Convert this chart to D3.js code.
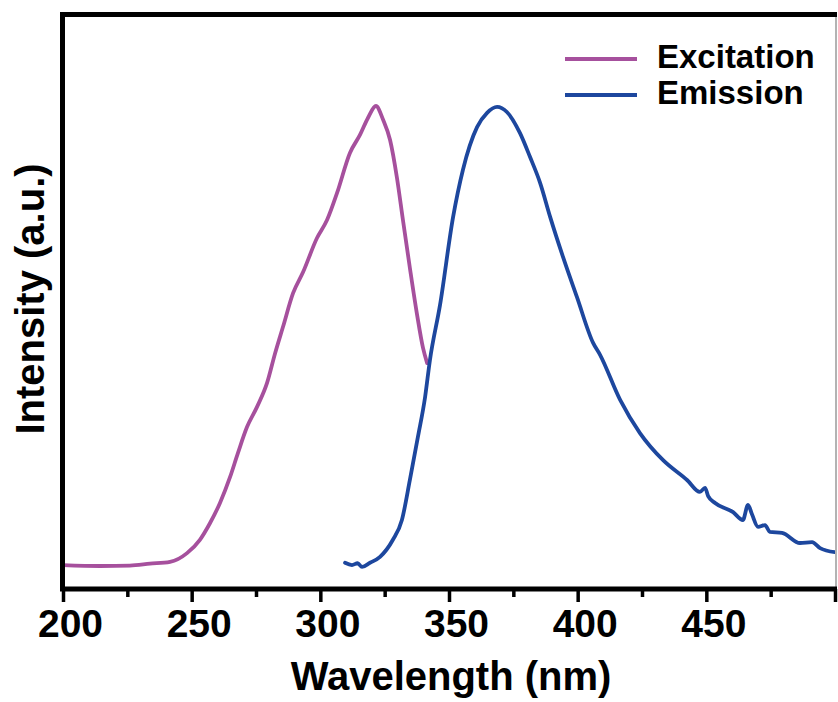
<!DOCTYPE html>
<html>
<head>
<meta charset="utf-8">
<script src="https://cdn.jsdelivr.net/npm/d3@7"></script>
<style>
  html, body { margin: 0; padding: 0; background: #fff; }
  svg { display: block; font-family: "Liberation Sans", Arial, sans-serif; font-weight: bold; }
</style>
</head>
<body>
<svg id="chart" width="838" height="702"></svg>
<script>
// Photoluminescence spectra: wavelength (nm) vs normalized intensity (a.u.)
const excitationWavelength = [200, 214.4, 226.0, 233.8, 241.6, 248.2, 253.2, 257.1, 261.0, 264.9, 268.0, 271.5, 275.4, 279.3, 282.4, 285.5, 289.4, 293.3, 298.7, 302.6, 306.5, 311.5, 315.4, 318.5, 321.6, 324.4, 327.1, 329.8, 332.1, 334.8, 337.6, 339.9, 341.5];
const excitationIntensity  = [0.002, 0.0, 0.001, 0.005, 0.009, 0.028, 0.057, 0.093, 0.137, 0.193, 0.246, 0.302, 0.346, 0.398, 0.462, 0.52, 0.593, 0.639, 0.713, 0.752, 0.811, 0.898, 0.937, 0.974, 1.0, 0.970, 0.926, 0.843, 0.752, 0.648, 0.546, 0.474, 0.441];

const emissionWavelength = [309.6, 312.3, 314.5, 316.2, 319.3, 323.2, 328.2, 331.7, 334.8, 337.9, 340.7, 342.6, 346.5, 351.6, 355.4, 360.9, 364.8, 368.7, 372.5, 377.6, 381.5, 385.4, 389.3, 394.3, 399.7, 406.0, 408.7, 416.5, 424.2, 433.2, 442.5, 447.5, 449.5, 450.7, 453.4, 460.4, 464.2, 466.2, 467.7, 470.1, 472.8, 474.7, 479.4, 486.4, 491.1, 494.2, 500];
const emissionIntensity  = [0.007, 0.002, 0.006, -0.002, 0.007, 0.020, 0.057, 0.100, 0.187, 0.280, 0.367, 0.448, 0.567, 0.759, 0.861, 0.954, 0.985, 0.998, 0.987, 0.941, 0.889, 0.833, 0.759, 0.672, 0.585, 0.485, 0.459, 0.361, 0.289, 0.230, 0.187, 0.161, 0.170, 0.152, 0.137, 0.117, 0.100, 0.133, 0.113, 0.085, 0.089, 0.074, 0.072, 0.050, 0.052, 0.039, 0.030];

const majorTicks = [200, 250, 300, 350, 400, 450, 500];
const tickLabels = ["200", "250", "300", "350", "400", "450", ""];
const minorTicks = [225, 275, 325, 375, 425, 475];

const seriesNames  = ["Excitation", "Emission"];
const seriesColors = ["#a6509d", "#1d479e"];

const svg = d3.select("#chart");
const plotLeft = 63, plotRight = 835, plotTop = 14, plotBottom = 589;

const x = d3.scaleLinear().domain([200, 500]).range([plotLeft, plotRight]);
const y = d3.scaleLinear().domain([-0.05, 1.2]).range([plotBottom, plotTop]);

svg.append("defs").append("clipPath").attr("id", "plotClip")
  .append("rect").attr("x", plotLeft).attr("y", plotTop)
  .attr("width", plotRight - plotLeft).attr("height", plotBottom - plotTop);

const line = d3.line()
  .x(d => x(d[0]))
  .y(d => y(d[1]))
  .curve(d3.curveMonotoneX);

const series = [
  d3.zip(excitationWavelength, excitationIntensity),
  d3.zip(emissionWavelength, emissionIntensity)
];

const plot = svg.append("g").attr("clip-path", "url(#plotClip)");
series.forEach((pts, i) => {
  plot.append("path")
    .datum(pts)
    .attr("fill", "none")
    .attr("stroke", seriesColors[i])
    .attr("stroke-width", 3.8)
    .attr("stroke-linejoin", "round")
    .attr("stroke-linecap", "round")
    .attr("d", line);
});

// minor ticks
const minorAxis = d3.axisBottom(x).tickValues(minorTicks).tickSize(8).tickFormat("");
const gMinor = svg.append("g").attr("transform", `translate(0,${plotBottom})`).call(minorAxis);
gMinor.select(".domain").remove();
gMinor.selectAll(".tick line").attr("stroke", "#000").attr("stroke-width", 3.5);

// major ticks and labels
const majorAxis = d3.axisBottom(x).tickValues(majorTicks).tickSize(13).tickPadding(7)
  .tickFormat((d, i) => tickLabels[i]);
const gMajor = svg.append("g").attr("transform", `translate(0,${plotBottom})`).call(majorAxis);
gMajor.select(".domain").remove();
gMajor.selectAll(".tick line").attr("stroke", "#000").attr("stroke-width", 3.5);
gMajor.selectAll(".tick text")
  .attr("fill", "#000")
  .attr("font-size", 39)
  .attr("font-weight", "bold")
  .attr("font-family", "'Liberation Sans', Arial, sans-serif")
  .attr("dx", 7);

// frame
svg.append("line").attr("x1", plotRight + 1).attr("x2", plotRight + 1).attr("y1", plotTop).attr("y2", plotBottom)
  .attr("stroke", "#9a9a9a").attr("stroke-width", 1.5);
svg.append("line").attr("x1", plotLeft - 3).attr("x2", plotRight + 2).attr("y1", plotBottom).attr("y2", plotBottom)
  .attr("stroke", "#000").attr("stroke-width", 5);
svg.append("line").attr("x1", plotLeft - 3).attr("x2", plotRight + 2).attr("y1", plotTop + 0.5).attr("y2", plotTop + 0.5)
  .attr("stroke", "#000").attr("stroke-width", 5);
svg.append("line").attr("x1", plotLeft - 0.5).attr("x2", plotLeft - 0.5).attr("y1", plotTop - 2).attr("y2", plotBottom + 2)
  .attr("stroke", "#000").attr("stroke-width", 5);

// axis titles
svg.append("text")
  .attr("x", 451).attr("y", 690)
  .attr("text-anchor", "middle")
  .attr("font-size", 40)
  .attr("fill", "#000")
  .text("Wavelength (nm)");

svg.append("text")
  .attr("transform", "translate(44,299) rotate(-90)")
  .attr("text-anchor", "middle")
  .attr("font-size", 40)
  .attr("fill", "#000")
  .text("Intensity (a.u.)");

// legend
const legend = svg.append("g");
seriesNames.forEach((name, i) => {
  const ly = 59 + i * 36;
  legend.append("line")
    .attr("x1", 565).attr("x2", 637).attr("y1", ly).attr("y2", ly)
    .attr("stroke", seriesColors[i]).attr("stroke-width", 4);
  legend.append("text")
    .attr("x", 657).attr("y", ly + 9)
    .attr("font-size", 33)
    .attr("fill", "#000")
    .text(name);
});
</script>
</body>
</html>
